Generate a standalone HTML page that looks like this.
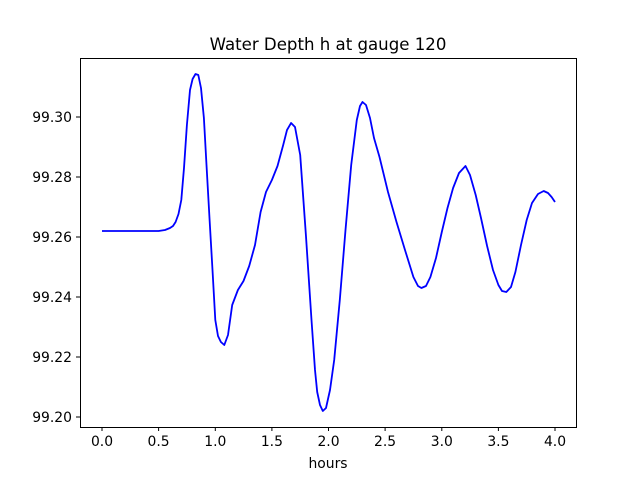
<!DOCTYPE html>
<html><head><style>body{margin:0;background:#fff}svg{display:block}</style></head><body>
<svg width="640" height="480" xmlns="http://www.w3.org/2000/svg" font-family="DejaVu Sans, Liberation Sans, sans-serif">
<rect width="640" height="480" fill="#fff"/>
<text x="328" y="50" font-size="16.6" text-anchor="middle">Water Depth h at gauge 120</text>
<polyline fill="none" stroke="#0000ff" stroke-width="1.8" stroke-linejoin="round" points="
102,231 158.6,231 165,230 170,228 173,226 175.6,222 178.5,214 181.3,200 184,168 186.9,125 190,90 192.6,79 195.5,74 198.3,75 201,88 203.9,118 206.5,165 209.6,220 212.5,270 215.3,320 218,336 220.9,342 224.3,345 228,335 232.2,305 237.9,290 243.5,281 249.2,266 255,245 260.6,212 266,192 271.9,180 277.5,166 283.2,145 287,130 291.1,123 295,127 300.2,155 305.9,235 311.5,320 315,370 317.2,392 320,405 322.8,411 326,408 330,390 334.2,360 339.8,300 345.5,230 351.2,165 356.8,120 360,106 362.5,102 366,105 370,118 374,138 379.5,157 388,192 396.5,222 405,250 413.4,277 418,286 421.4,288 426,286 430.4,277 436,258 441.8,232 447.5,208 453.1,188 459,173 465.5,166 470,175 475.7,195 481,218 487.1,246 493,270 498.4,285 502,291 506.3,292 511,287 515.4,272 521,245 526.7,220 532,203 538,194 543.7,191 548,193 551.6,197 555,202"/>
<rect x="80.5" y="58.5" width="496" height="369" fill="none" stroke="#000" stroke-width="1"/>
<g stroke="#000" stroke-width="1">
<line x1="102" y1="427" x2="102" y2="431"/><line x1="158.6" y1="427" x2="158.6" y2="431"/><line x1="215.3" y1="427" x2="215.3" y2="431"/><line x1="271.9" y1="427" x2="271.9" y2="431"/><line x1="328.5" y1="427" x2="328.5" y2="431"/><line x1="385.1" y1="427" x2="385.1" y2="431"/><line x1="441.8" y1="427" x2="441.8" y2="431"/><line x1="498.4" y1="427" x2="498.4" y2="431"/><line x1="555" y1="427" x2="555" y2="431"/>
<line x1="76" y1="417" x2="80" y2="417"/><line x1="76" y1="357" x2="80" y2="357"/><line x1="76" y1="297" x2="80" y2="297"/><line x1="76" y1="237" x2="80" y2="237"/><line x1="76" y1="177" x2="80" y2="177"/><line x1="76" y1="117" x2="80" y2="117"/>
</g>
<g font-size="13.9" text-anchor="middle">
<text x="102" y="446">0.0</text><text x="158.6" y="446">0.5</text><text x="215.3" y="446">1.0</text><text x="271.9" y="446">1.5</text><text x="328.5" y="446">2.0</text><text x="385.1" y="446">2.5</text><text x="441.8" y="446">3.0</text><text x="498.4" y="446">3.5</text><text x="555" y="446">4.0</text>
<text x="328" y="468">hours</text>
</g>
<g font-size="13.9" text-anchor="end">
<text x="72" y="422">99.20</text><text x="72" y="362">99.22</text><text x="72" y="302">99.24</text><text x="72" y="242">99.26</text><text x="72" y="182">99.28</text><text x="72" y="122">99.30</text>
</g>
</svg>
</body></html>
